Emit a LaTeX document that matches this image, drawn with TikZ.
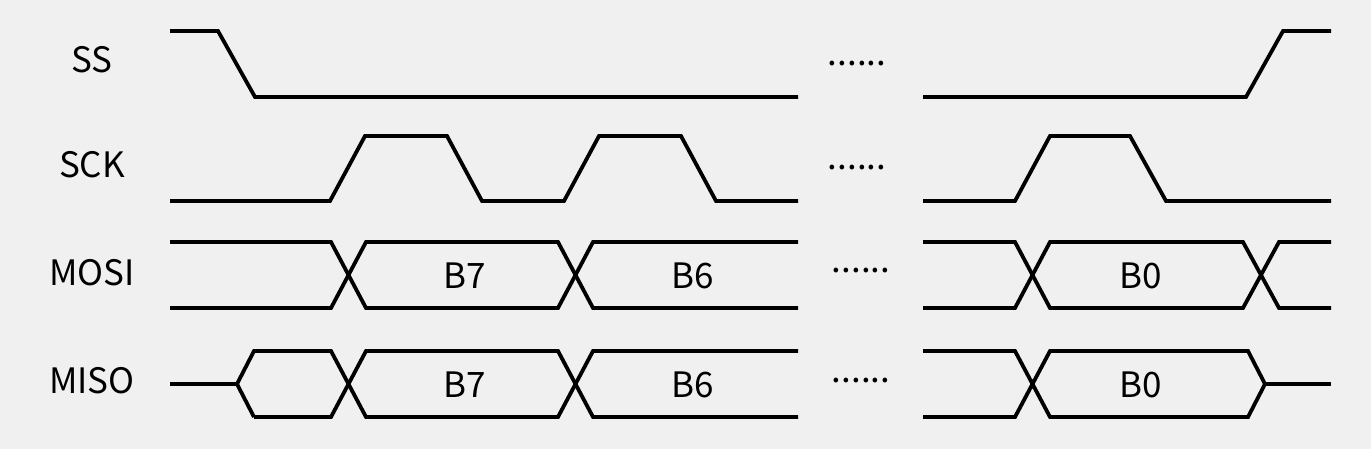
\documentclass[tikz,border=0pt]{standalone}
\usepackage{fontspec}
\newfontfamily\sigfont{Noto Sans CJK SC}
\definecolor{bgcolor}{HTML}{F0F0F0}

\begin{document}
\begin{tikzpicture}[x=1pt,y=-1pt,
    wave/.style={line width=3.8pt,black},
    signame/.style={font={\fontsize{35}{40}\selectfont\sigfont},anchor=base},
    gap/.style={font={\fontsize{35}{40}\selectfont\sigfont},inner sep=0pt}]
\fill[bgcolor] (0,0) rectangle (1371,449);
\useasboundingbox (0,0) rectangle (1371,449);

% signal names
\node[signame] (ss) at (92,73) {SS};
\node[signame] (sck) at (92,178) {SCK};
\node[signame] (mosi) at (92,285) {MOSI};
\node[signame] (miso) at (92,393) {MISO};

% SS
\draw[wave](170,31)--(218,31)--(255,97)--(798,97);
\draw[wave](923,97)--(1246,97)--(1283,31)--(1331,31);

% SCK
\draw[wave](170,201)--(330,201)--(365,136)--(447,136)--(482,201)--(564,201)
    --(599,136)--(681,136)--(716,201)--(798,201);
\draw[wave](923,201)--(1015,201)--(1050,136)--(1130,136)--(1166,201)--(1331,201);

% MOSI
\draw[wave](170,242)--(331,242)--(366,308)--(558,308)--(593,242)--(798,242);
\draw[wave](170,308)--(331,308)--(366,242)--(558,242)--(593,308)--(798,308);
\draw[wave](923,242)--(1015,242)--(1050,308)--(1243,308)--(1279,242)--(1331,242);
\draw[wave](923,308)--(1015,308)--(1050,242)--(1243,242)--(1279,308)--(1331,308);
\node[signame] (mosib7) at (465,288) {B7};
\node[signame] (mosib6) at (693,288) {B6};
\node[signame] (mosib0) at (1141,288) {B0};

% MISO
\draw[wave](170,384)--(237,384);
\draw[wave](254,417)--(237,384)--(254,351)--(331,351)--(366,417)--(558,417)--(593,351)--(798,351);
\draw[wave](254,417)--(331,417)--(366,351)--(558,351)--(593,417)--(798,417);
\draw[wave](923,351)--(1015,351)--(1050,417)--(1248,417)--(1265,384)--(1248,351)--(1050,351)--(1015,417)--(923,417);
\draw[wave](1265,384)--(1331,384);
\node[signame] (misob7) at (465,397) {B7};
\node[signame] (misob6) at (693,397) {B6};
\node[signame] (misob0) at (1141,397) {B0};

% gaps
\node[gap] (gapss) at (857,64) {......};
\node[gap] (gapsck) at (857,168) {......};
\node[gap] (gapmosi) at (861,271) {......};
\node[gap] (gapmiso) at (861,381) {......};
\end{tikzpicture}
\end{document}
